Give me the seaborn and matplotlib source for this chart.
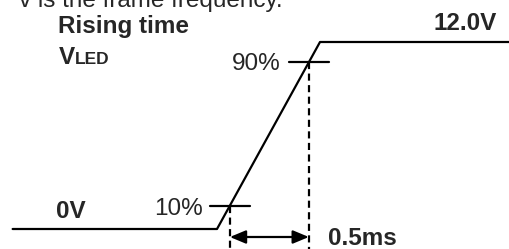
import numpy as np
import pandas as pd
import matplotlib
matplotlib.use("Agg")
import matplotlib.pyplot as plt
import seaborn as sns

# waveform (time in ms, voltage in V)
time_ms = [-1.24, 0.0, 0.625, 1.80]
volts = [0.0, 0.0, 12.0, 12.0]
level_labels = ["10%", "90%"]
level_volts = [1.5, 10.7]
rise_label = "0.5ms"
low_label = "0V"
high_label = "12.0V"

sns.set_style("white")
plt.rcParams["font.family"] = ["Liberation Sans", "DejaVu Sans"]

fig = plt.figure(figsize=(5.10, 2.49), dpi=100)
ax = fig.add_axes([0, 0, 1, 1])

# pixel <-> data scale
PX_MS = 164.8
PX_V = 187 / 12
X0, Y0 = 217, 229
ax.set_xlim(-X0 / PX_MS, (510 - X0) / PX_MS)
ax.set_ylim(-(249 - Y0) / PX_V, Y0 / PX_V)
ax.axis("off")

df = pd.DataFrame({"t": time_ms, "v": volts})
sns.lineplot(data=df, x="t", y="v", sort=False, color="black", lw=1.6, ax=ax,
             estimator=None)

# crossing points on the rising edge
rise_t = time_ms[1:3]
rise_v = volts[1:3]
cross_t = [float(np.interp(lv, rise_v, rise_t)) for lv in level_volts]
half = 20 / PX_MS
ybot = ax.get_ylim()[0]
for ct, lv in zip(cross_t, level_volts):
    ax.plot([ct - half, ct + half], [lv, lv], color="black", lw=1.6)
    ax.plot([ct, ct], [lv, ybot], color="black", lw=1.6, dashes=(3.2, 2.0))

# arrow
arr_v = (Y0 - 237) / PX_V
ax.annotate("", xy=(cross_t[1], arr_v), xytext=(cross_t[0], arr_v),
            arrowprops=dict(arrowstyle="<|-|>,head_length=0.6,head_width=0.25",
                            color="black", lw=1.6,
                            mutation_scale=16, shrinkA=0, shrinkB=0))

def px(x, y):
    return (x - X0) / PX_MS, (Y0 - y) / PX_V

fs = 17.5
ax.text(*px(283, 7), "v is the frame frequency.", fontsize=fs, ha="right", va="baseline")
ax.text(*px(58, 33), "Rising time", fontsize=fs, fontweight="bold", ha="left", va="baseline")
ax.text(*px(59, 64), "V", fontsize=fs, fontweight="bold", ha="left", va="baseline")
ax.text(*px(75, 64), "LED", fontsize=12.5, fontweight="bold", ha="left", va="baseline")
ax.text(*px(497, 30), high_label, fontsize=fs, fontweight="bold", ha="right", va="baseline")
ax.text(*px(56, 218), low_label, fontsize=fs, fontweight="bold", ha="left", va="baseline")
ax.text(*px(281, 70), level_labels[1], fontsize=fs, ha="right", va="baseline")
ax.text(*px(203, 215), level_labels[0], fontsize=fs, ha="right", va="baseline")
ax.text(*px(328, 245), rise_label, fontsize=fs, fontweight="bold", ha="left", va="baseline")

fig.savefig("out.png", dpi=100, facecolor="white")
